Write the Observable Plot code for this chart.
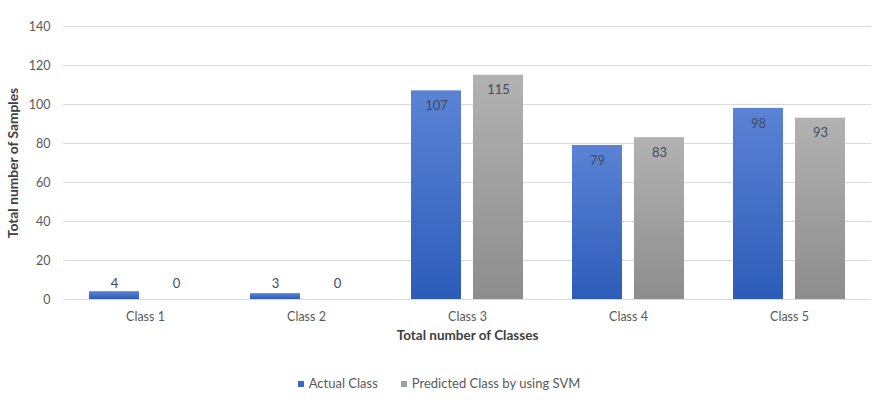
<!DOCTYPE html>
<html>
<head>
<meta charset="utf-8">
<script src="https://cdn.jsdelivr.net/npm/d3@7"></script>
<script src="https://cdn.jsdelivr.net/npm/@observablehq/plot@0.6"></script>
<style>
  html, body { margin: 0; padding: 0; background: #fff; }
  body { width: 878px; height: 402px; overflow: hidden; font-family: Lato, "Open Sans", sans-serif; }
  #legend { display: flex; justify-content: center; gap: 23px; font-size: 13px; color: #595959; margin-top: 13px; }
  #legend span.sw { display: inline-block; width: 6px; height: 6px; margin-right: 5px; vertical-align: middle; position: relative; top: -1px; }
</style>
</head>
<body>
<div id="chart"></div>
<div id="legend"></div>
<script>
// Sample counts per class: actual vs. SVM prediction
const classes = ["Class 1", "Class 2", "Class 3", "Class 4", "Class 5"];
const actualClass = [4, 3, 107, 79, 98];
const predictedSVM = [0, 0, 115, 83, 93];
const seriesNames = ["Actual Class", "Predicted Class by using SVM"];
const yTicks = [0, 20, 40, 60, 80, 100, 120, 140];
const xTitle = "Total number of Classes";
const yTitle = "Total number of Samples";

const actualRows = classes.map((c, i) => ({cls: c, value: actualClass[i], series: seriesNames[0]}));
const predictedRows = classes.map((c, i) => ({cls: c, value: predictedSVM[i], series: seriesNames[1]}));

const labelColor = "#414b5e";
const big = d => d.value >= 20;
const small = d => d.value < 20;

const chart = Plot.plot({
  width: 878,
  height: 362,
  marginLeft: 63,
  marginRight: 7,
  marginTop: 26,
  marginBottom: 63,
  style: {fontFamily: "Lato, 'Open Sans', sans-serif", fontSize: "12px", color: "#595959", background: "#fff"},
  x: {type: "band", domain: classes, paddingInner: 0.3065, paddingOuter: 0.153, label: null},
  y: {domain: [0, 140], ticks: yTicks, label: null},
  marks: [
    Plot.gridY(yTicks, {stroke: "#d9d9d9", strokeOpacity: 1, strokeWidth: 1}),
    Plot.axisY({ticks: yTicks, tickSize: 0, tickPadding: 13, fontSize: 12.5, fill: "#595959", label: null}),
    Plot.axisX({tickSize: 0, tickPadding: 13, fontSize: 12.5, fill: "#595959", label: null}),
    Plot.barY(actualRows, {x: "cls", y: "value", fill: "url(#gradBlue)", insetRight: 62}),
    Plot.barY(predictedRows, {x: "cls", y: "value", fill: "url(#gradGray)", insetLeft: 62}),
    // value labels: inside the top of tall bars, just above the axis for short ones
    Plot.text(actualRows.filter(big), {x: "cls", y: "value", text: d => String(d.value), dx: -31, dy: 15, fill: labelColor, fontSize: 13}),
    Plot.text(predictedRows.filter(big), {x: "cls", y: "value", text: d => String(d.value), dx: 31, dy: 15, fill: labelColor, fontSize: 13}),
    Plot.text(actualRows.filter(small), {x: "cls", y: () => 8, text: d => String(d.value), dx: -31, fill: labelColor, fontSize: 13}),
    Plot.text(predictedRows.filter(small), {x: "cls", y: () => 8, text: d => String(d.value), dx: 31, fill: labelColor, fontSize: 13}),
    Plot.text([xTitle], {frameAnchor: "bottom", textAnchor: "middle", dy: 40, fontWeight: "bold", fontSize: 13.5, fill: "#404040"}),
    Plot.text([yTitle], {frameAnchor: "left", textAnchor: "middle", dx: -50, rotate: -90, fontWeight: "bold", fontSize: 13.8, fill: "#404040"})
  ]
});

// vertical gradients used by the bar fills
const ns = "http://www.w3.org/2000/svg";
const defs = document.createElementNS(ns, "defs");
function addGradient(id, top, bottom) {
  const g = document.createElementNS(ns, "linearGradient");
  g.setAttribute("id", id);
  g.setAttribute("x1", "0"); g.setAttribute("y1", "0");
  g.setAttribute("x2", "0"); g.setAttribute("y2", "1");
  [[0, top], [1, bottom]].forEach(([o, c]) => {
    const s = document.createElementNS(ns, "stop");
    s.setAttribute("offset", o);
    s.setAttribute("stop-color", c);
    g.appendChild(s);
  });
  defs.appendChild(g);
}
addGradient("gradBlue", "#5b83d5", "#2d5cb9");
addGradient("gradGray", "#b2b2b2", "#8d8d8d");
chart.insertBefore(defs, chart.firstChild);

document.getElementById("chart").appendChild(chart);

// legend below the chart
const swatchColors = ["#3a68c6", "#a0a0a0"];
const legend = document.getElementById("legend");
seriesNames.forEach((name, i) => {
  const item = document.createElement("div");
  const sw = document.createElement("span");
  sw.className = "sw";
  sw.style.background = swatchColors[i];
  item.appendChild(sw);
  item.appendChild(document.createTextNode(name));
  legend.appendChild(item);
});
</script>
</body>
</html>
